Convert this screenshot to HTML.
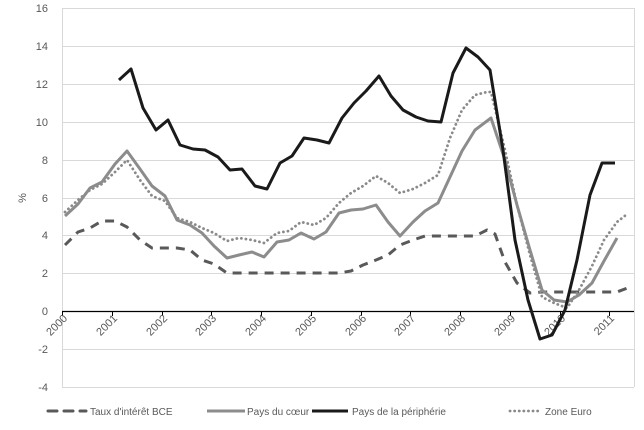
<!DOCTYPE html><html><head><style>body{margin:0;background:#fff}svg{display:block}text{font-family:"Liberation Sans",sans-serif;fill:#595959;font-size:11px}.lg{font-size:10px}</style></head><body>
<svg width="644" height="430" viewBox="0 0 644 430">
<g stroke="#d9d9d9" stroke-width="1">
<line x1="62" x2="634" y1="8.5" y2="8.5"/><line x1="62" x2="634" y1="46.5" y2="46.5"/><line x1="62" x2="634" y1="84.5" y2="84.5"/><line x1="62" x2="634" y1="122.5" y2="122.5"/><line x1="62" x2="634" y1="160.5" y2="160.5"/><line x1="62" x2="634" y1="198.5" y2="198.5"/><line x1="62" x2="634" y1="235.5" y2="235.5"/><line x1="62" x2="634" y1="273.5" y2="273.5"/><line x1="62" x2="634" y1="349.5" y2="349.5"/><line x1="62" x2="634" y1="387.5" y2="387.5"/>
<line x1="62.5" x2="62.5" y1="8" y2="387"/><line x1="634.5" x2="634.5" y1="8" y2="387"/>
</g>
<g text-anchor="end"><text x="48" y="12">16</text><text x="48" y="50">14</text><text x="48" y="88">12</text><text x="48" y="126">10</text><text x="48" y="164">8</text><text x="48" y="202">6</text><text x="48" y="239">4</text><text x="48" y="277">2</text><text x="48" y="315">0</text><text x="48" y="353">-2</text><text x="48" y="391">-4</text></g>
<text x="0" y="0" transform="translate(26,198) rotate(-90)" text-anchor="middle">%</text>
<line x1="62" x2="634" y1="311.5" y2="311.5" stroke="#000" stroke-width="1.3"/>
<g stroke="#000"><line x1="62.5" x2="62.5" y1="311" y2="316"/><line x1="112.5" x2="112.5" y1="311" y2="316"/><line x1="162.5" x2="162.5" y1="311" y2="316"/><line x1="211.5" x2="211.5" y1="311" y2="316"/><line x1="261.5" x2="261.5" y1="311" y2="316"/><line x1="311.5" x2="311.5" y1="311" y2="316"/><line x1="361.5" x2="361.5" y1="311" y2="316"/><line x1="410.5" x2="410.5" y1="311" y2="316"/><line x1="460.5" x2="460.5" y1="311" y2="316"/><line x1="510.5" x2="510.5" y1="311" y2="316"/><line x1="560.5" x2="560.5" y1="311" y2="316"/><line x1="609.5" x2="609.5" y1="311" y2="316"/></g>
<g text-anchor="end">
<text transform="translate(68,319) rotate(-45)">2000</text><text transform="translate(118,319) rotate(-45)">2001</text><text transform="translate(168,319) rotate(-45)">2002</text><text transform="translate(217,319) rotate(-45)">2003</text><text transform="translate(267,319) rotate(-45)">2004</text><text transform="translate(317,319) rotate(-45)">2005</text><text transform="translate(367,319) rotate(-45)">2006</text><text transform="translate(416,319) rotate(-45)">2007</text><text transform="translate(466,319) rotate(-45)">2008</text><text transform="translate(516,319) rotate(-45)">2009</text><text transform="translate(566,319) rotate(-45)">2010</text><text transform="translate(615,319) rotate(-45)">2011</text>
</g>
<g fill="none" stroke-linejoin="round">
<polyline stroke="#595959" stroke-width="3" stroke-dasharray="9,7" points="65,245 78,232 90,228 102,221 115,221 127,227 140,240 152,248 165,248 177,248 190,250 202,260 214,264 227,273 239,273 252,273 264,273 277,273 289,273 301,273 314,273 326,273 339,273 351,271 363,265 376,260 388,255 400,245 413,240 425,236 438,236 450,236 462,236 475,236 487,230 495,234 505,262 517,283 530,293 542,292 554,292 567,292 579,292 592,292 604,292 617,292 630,287"/>
<polyline stroke="#8a8a8a" stroke-width="2.8" stroke-dasharray="0.1,4.5" stroke-linecap="round" points="65,212 78,200 90,190 102,184 115,172 127,160 140,180 152,196 165,201 177,218 190,222 202,228 214,233 227,241 239,238 252,240 264,243 277,233 289,231 301,222 314,225 326,218 339,203 351,193 363,186 376,176 388,183 400,193 413,189 425,183 438,175 450,138 462,110 475,95 487,92 491,92 505,150 517,205 530,255 542,297 554,303 567,308 579,290 592,266 604,240 617,222 626,215"/>
<polyline stroke="#8c8c8c" stroke-width="3" points="65,216 78,204 90,188 102,182 115,164 127,151 140,169 152,186 165,196 177,220 190,225 202,233 214,246 227,258 239,255 252,252 264,257 277,242 289,240 301,233 314,239 326,232 339,213 351,210 363,209 376,205 388,222 400,236 413,222 425,211 438,203 450,177 462,151 475,130 491,118 505,160 517,205 530,250 542,290 554,300 567,302 579,295 592,283 604,261 617,238"/>
<polyline stroke="#1a1a1a" stroke-width="3" points="119,80 131,69 143,108 156,130 168,120 180,145 193,149 205,150 218,157 230,170 242,169 255,186 267,189 280,163 292,156 304,138 317,140 329,143 342,118 354,103 366,91 379,76 391,96 403,110 416,117 428,121 441,122 453,73 466,48 478,57 490,70 503,150 515,240 528,300 540,339 552,335 565,310 577,260 590,195 602,163 615,163"/>
</g>
<line x1="48" x2="86" y1="411" y2="411" stroke="#595959" stroke-width="3" stroke-dasharray="9,7" stroke-linecap="round"/>
<text class="lg" x="90" y="415">Taux d'intérêt BCE</text>
<line x1="207" x2="245" y1="411" y2="411" stroke="#8c8c8c" stroke-width="3"/>
<text class="lg" x="247" y="415">Pays du cœur</text>
<line x1="312" x2="348" y1="411" y2="411" stroke="#1a1a1a" stroke-width="3"/>
<text class="lg" x="352" y="415">Pays de la périphérie</text>
<line x1="510" x2="542" y1="411" y2="411" stroke="#8a8a8a" stroke-width="2.8" stroke-dasharray="0.1,4.5" stroke-linecap="round"/>
<text class="lg" x="545" y="415">Zone Euro</text>
</svg></body></html>
